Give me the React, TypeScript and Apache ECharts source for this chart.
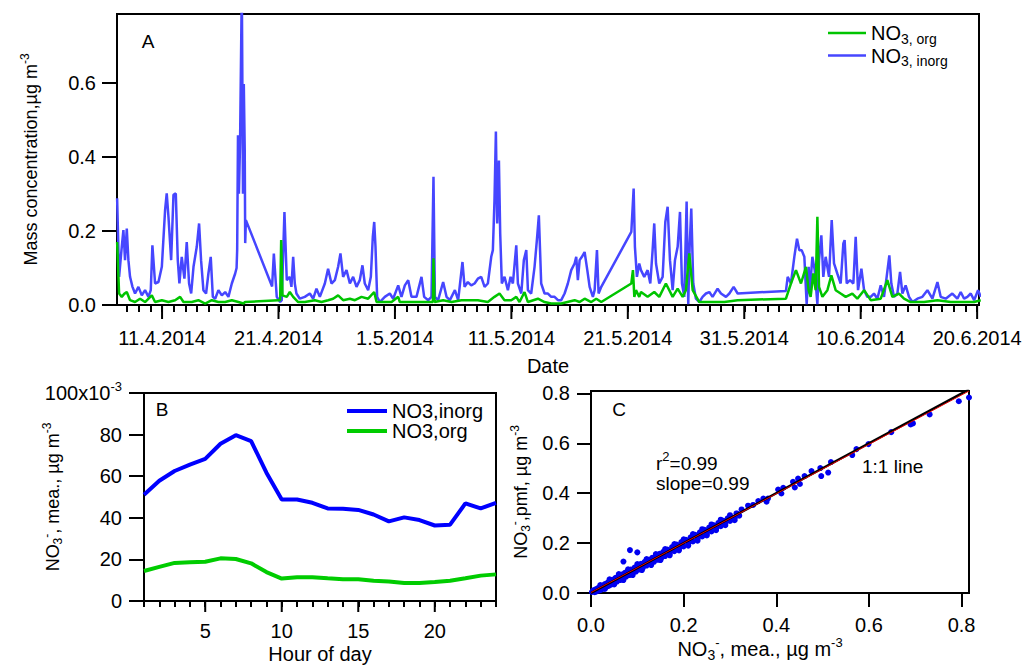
import React, { useEffect, useRef } from 'react';
import * as echarts from 'echarts';

const FONT = '"Liberation Sans", Arial, Helvetica, sans-serif';

// ---------- Panel A: time series (day offset from 1.4.2014, µg m-3) ----------
const inorgA: [number, number][] = [
  [6.14,0.288],[6.31,0.076],[6.54,0.157],[6.68,0.202],[6.82,0.121],[6.97,0.206],[7.11,0.121],[7.25,0.076],[7.46,0.049],[7.68,0.031],[7.97,0.049],[8.26,0.026],[8.54,0.040],[8.83,0.022],[9.03,0.040],[9.17,0.161],[9.40,0.058],[9.69,0.062],[9.98,0.103],[10.26,0.256],[10.40,0.301],[10.55,0.238],[10.78,0.121],[10.98,0.297],[11.18,0.301],[11.35,0.121],[11.49,0.058],[11.69,0.130],[11.92,0.071],[12.12,0.170],[12.32,0.058],[12.50,0.031],[12.70,0.103],[12.98,0.157],[13.18,0.220],[13.35,0.121],[13.55,0.040],[13.78,0.031],[13.98,0.085],[14.18,0.130],[14.36,0.022],[14.56,0.017],[14.84,0.040],[15.13,0.026],[15.42,0.035],[15.70,0.022],[15.99,0.058],[16.28,0.085],[16.40,0.100],[16.45,0.148],[16.52,0.458],[16.60,0.300],[16.70,0.440],[16.85,0.860],[16.95,0.300],[17.02,0.596],[17.10,0.418],[17.14,0.167],[17.20,0.229],
  [19.45,0.050],[19.60,0.139],[19.85,0.022],[20.14,0.008],[20.28,0.013],[20.51,0.251],[20.71,0.067],[20.97,0.076],[21.11,0.049],[21.26,0.130],[21.40,0.058],[21.54,0.031],[21.83,0.017],[22.26,0.022],[22.69,0.031],[22.98,0.017],[23.26,0.044],[23.55,0.022],[23.98,0.058],[24.26,0.098],[24.55,0.058],[24.84,0.067],[25.12,0.103],[25.32,0.139],[25.55,0.076],[25.84,0.094],[26.13,0.058],[26.41,0.076],[26.70,0.049],[26.98,0.067],[27.21,0.107],[27.41,0.058],[27.70,0.040],[27.93,0.076],[28.10,0.184],[28.22,0.224],[28.33,0.157],[28.47,0.022],[28.70,0.008],[29.13,0.022],[29.56,0.031],[29.85,0.017],[30.28,0.053],[30.56,0.022],[30.85,0.053],[31.14,0.067],[31.42,0.022],[31.85,0.022],[32.28,0.076],[32.51,0.022],[32.86,0.013],[33.14,0.022],[33.31,0.346],[33.43,0.022],[33.71,0.013],[34.14,0.062],[34.43,0.022],[34.72,0.013],[35.15,0.040],[35.43,0.013],[35.80,0.116],[35.98,0.049],[36.26,0.062],[36.55,0.053],[36.84,0.058],[37.12,0.071],[37.41,0.076],[37.70,0.049],[37.98,0.058],[38.27,0.130],[38.41,0.148],[38.55,0.283],[38.67,0.468],[38.78,0.220],[38.93,0.390],[39.04,0.193],[39.18,0.058],[39.41,0.076],[39.70,0.040],[39.93,0.076],[40.13,0.058],[40.42,0.161],[40.56,0.058],[40.85,0.031],[41.07,0.121],[41.28,0.148],[41.42,0.040],[41.70,0.031],[41.99,0.103],[42.19,0.175],[42.36,0.242],[42.56,0.058],[42.85,0.031],[43.14,0.031],[43.42,0.022],[43.71,0.022],[44.00,0.013],[44.28,0.013],[44.57,0.031],[44.85,0.058],[45.14,0.094],[45.43,0.112],[45.57,0.130],[45.71,0.067],[45.86,0.121],[46.06,0.130],[46.29,0.143],[46.52,0.094],[46.72,0.049],[47.00,0.022],[47.15,0.040],[47.35,0.148],[47.49,0.031],[47.72,0.049],
  [50.30,0.197],[50.50,0.314],[50.61,0.157],[50.78,0.076],[50.98,0.112],[51.13,0.094],[51.41,0.076],[51.70,0.094],[51.93,0.058],[52.13,0.148],[52.27,0.220],[52.42,0.112],[52.70,0.058],[52.99,0.076],[53.22,0.224],[53.42,0.265],[53.62,0.121],[53.85,0.040],[54.05,0.121],[54.28,0.157],[54.48,0.251],[54.65,0.058],[54.85,0.022],[55.05,0.279],[55.19,0.002],[55.31,0.157],[55.45,0.260],[55.62,0.058],[55.85,0.017],[56.14,0.008],[56.42,0.022],[56.71,0.031],[57.00,0.035],[57.28,0.022],[57.71,0.044],[58.00,0.031],[58.43,0.022],[58.72,0.031],[59.09,0.049],[59.43,0.031],
  [63.58,0.038],[63.73,0.076],[64.01,0.058],[64.30,0.130],[64.53,0.179],[64.73,0.148],[64.93,0.148],[65.16,0.130],[65.36,0.002],[65.53,0.103],[65.62,0.031],[65.85,0.130],[66.05,0.094],[66.28,0.002],[66.42,0.121],[66.62,0.188],[66.79,0.076],[66.99,0.130],[67.28,0.076],[67.51,0.229],[67.71,0.112],[67.99,0.085],[68.28,0.058],[68.51,0.166],[68.62,0.175],[68.80,0.058],[69.08,0.067],[69.37,0.058],[69.57,0.184],[69.77,0.040],[70.06,0.098],[70.29,0.040],[70.57,0.022],[70.86,0.022],[71.14,0.031],[71.43,0.017],[71.72,0.053],[72.00,0.022],[72.23,0.076],[72.46,0.134],[72.63,0.058],[72.86,0.022],[73.15,0.031],[73.38,0.089],[73.58,0.031],[73.86,0.053],[74.15,0.022],[74.44,0.008],[74.87,0.017],[75.30,0.022],[75.73,0.040],[76.16,0.017],[76.59,0.062],[76.87,0.022],[77.30,0.017],[77.87,0.031],[78.30,0.017],[78.59,0.035],[78.88,0.017],[79.16,0.022],[79.45,0.031],[79.74,0.013],[80.08,0.040],[80.31,0.022]
];

const orgA: [number, number][] = [
  [6.14,0.170],[6.31,0.031],[6.54,0.022],[6.75,0.030],[6.97,0.035],[7.25,0.013],[7.68,0.008],[8.11,0.017],[8.54,0.008],[9.12,0.026],[9.40,0.008],[9.98,0.013],[10.55,0.008],[11.12,0.013],[11.55,0.022],[11.84,0.008],[12.55,0.008],[13.12,0.013],[13.70,0.004],[14.27,0.013],[14.84,0.008],[15.42,0.008],[15.99,0.013],[16.56,0.008],[16.99,0.004],[17.13,0.008],
  [20.00,0.013],[20.14,0.013],[20.23,0.175],[20.34,0.026],[20.71,0.022],[20.97,0.035],[21.26,0.022],[21.69,0.008],[22.26,0.008],[23.12,0.013],[23.69,0.008],[24.26,0.013],[24.69,0.017],[25.12,0.026],[25.55,0.013],[26.13,0.017],[26.56,0.013],[27.13,0.022],[27.70,0.017],[28.22,0.035],[28.42,0.008],[29.13,0.008],[29.71,0.008],[30.28,0.022],[30.42,0.008],[31.14,0.008],[32.00,0.008],[32.86,0.008],[33.26,0.008],[33.31,0.126],[33.40,0.008],[34.14,0.013],[34.86,0.008],[35.72,0.013],[37.12,0.013],[37.98,0.008],[38.55,0.022],[38.98,0.031],[39.41,0.013],[39.99,0.013],[40.42,0.022],[40.70,0.008],[41.13,0.035],[41.42,0.008],[42.28,0.017],[42.85,0.008],[43.42,0.004],[44.28,0.004],[45.43,0.013],[45.86,0.008],[46.29,0.017],[46.86,0.008],[47.29,0.017],[47.72,0.008],
  [50.30,0.058],[50.44,0.094],[50.56,0.022],[50.70,0.040],[50.98,0.022],[51.13,0.035],[51.70,0.022],[52.27,0.035],[52.70,0.022],[53.27,0.058],[53.85,0.022],[54.28,0.044],[54.71,0.022],[54.99,0.040],[55.28,0.139],[55.57,0.040],[56.14,0.008],[57.14,0.008],[58.29,0.008],[59.43,0.013],
  [63.58,0.017],[64.01,0.058],[64.44,0.094],[64.87,0.058],[65.30,0.103],[65.53,0.040],[65.70,0.022],[65.93,0.085],[66.13,0.040],[66.28,0.238],[66.42,0.049],[66.71,0.022],[67.14,0.040],[67.48,0.080],[67.85,0.040],[68.28,0.031],[68.71,0.022],[69.28,0.031],[69.71,0.017],[70.29,0.040],[70.86,0.013],[71.72,0.017],[72.29,0.067],[72.72,0.022],[73.29,0.031],[73.72,0.017],[74.29,0.008],[75.44,0.008],[76.59,0.013],[77.73,0.008],[78.88,0.008],[79.74,0.008],[80.31,0.013]
];

const dateTickDays = [10, 20, 30, 40, 50, 60, 70, 80];
const dateTickLabels = ['11.4.2014', '21.4.2014', '1.5.2014', '11.5.2014', '21.5.2014', '31.5.2014', '10.6.2014', '20.6.2014'];
const concTicksA = [0, 0.2, 0.4, 0.6];

// ---------- Panel B: diurnal cycle (x10^-3 µg m-3) ----------
const hours = [1,2,3,4,5,6,7,8,9,10,11,12,13,14,15,16,17,18,19,20,21,22,23,24];
const inorgB = [51.1,57.8,62.5,65.6,68.3,75.6,79.7,76.9,61.7,48.8,48.8,47.2,44.5,44.4,43.8,41.6,38.3,40.2,38.9,36.3,36.7,46.9,44.5,47.2];
const orgB = [14.4,16.4,18.3,18.6,18.9,20.5,20.2,18.1,13.9,10.8,11.4,11.4,10.9,10.5,10.5,9.7,9.4,8.6,8.6,9.1,9.7,10.9,12.2,12.8];
const hourLabelTicks = [5, 10, 15, 20];
const concTicksB = [0, 20, 40, 60, 80, 100];

// ---------- Panel C: measured vs PMF ----------
const scatterC: [number, number][] = [
  [0.002,0.004],[0.005,0.011],[0.008,0.003],[0.010,0.015],[0.012,0.006],[0.015,0.020],[0.018,0.010],[0.020,0.026],[0.022,0.013],[0.025,0.030],[0.028,0.018],[0.030,0.036],[0.033,0.024],[0.036,0.042],[0.038,0.028],[0.040,0.048],[0.043,0.033],[0.046,0.053],[0.050,0.040],[0.053,0.061],[0.056,0.046],[0.060,0.068],[0.063,0.052],[0.066,0.074],[0.070,0.058],[0.073,0.081],[0.076,0.066],[0.080,0.088],[0.083,0.072],[0.086,0.094],[0.090,0.079],[0.094,0.102],[0.097,0.086],[0.100,0.108],[0.104,0.094],[0.108,0.117],[0.112,0.101],[0.116,0.125],[0.120,0.110],[0.124,0.133],[0.128,0.117],[0.132,0.141],[0.136,0.125],[0.140,0.149],[0.144,0.133],[0.148,0.157],[0.152,0.141],[0.156,0.165],[0.160,0.148],[0.165,0.174],[0.170,0.158],[0.175,0.184],[0.180,0.168],[0.185,0.194],[0.190,0.178],[0.195,0.204],[0.200,0.187],[0.205,0.213],[0.210,0.197],[0.215,0.223],[0.220,0.207],[0.225,0.233],[0.230,0.217],[0.235,0.243],[0.240,0.227],[0.245,0.253],[0.250,0.237],[0.255,0.262],[0.260,0.247],[0.265,0.272],[0.270,0.258],[0.275,0.281],[0.280,0.268],[0.285,0.290],[0.290,0.279],[0.295,0.299],[0.300,0.289],[0.305,0.302],[0.310,0.300],[0.315,0.318],[0.320,0.310],
  [0.015,0.014],[0.035,0.034],[0.055,0.054],[0.075,0.074],[0.095,0.094],[0.115,0.113],[0.135,0.134],[0.155,0.153],[0.175,0.173],[0.195,0.193],[0.215,0.213],[0.235,0.233],[0.255,0.253],[0.275,0.273],[0.295,0.292],
  [0.020,0.032],[0.040,0.055],[0.060,0.076],[0.080,0.095],[0.100,0.116],[0.120,0.136],[0.140,0.156],[0.160,0.176],[0.180,0.196],[0.200,0.215],[0.220,0.236],[0.240,0.256],[0.260,0.275],[0.280,0.294],[0.300,0.312],
  [0.030,0.016],[0.050,0.034],[0.070,0.052],[0.090,0.072],[0.110,0.092],[0.130,0.112],[0.150,0.132],[0.170,0.151],[0.190,0.171],[0.210,0.190],[0.230,0.210],[0.250,0.231],[0.270,0.252],[0.290,0.272],[0.310,0.292],
  [0.300,0.306],[0.314,0.319],[0.325,0.335],[0.339,0.350],[0.350,0.353],[0.361,0.369],[0.372,0.379],[0.379,0.366],[0.382,0.379],[0.404,0.415],[0.411,0.399],[0.415,0.422],[0.436,0.446],[0.440,0.423],[0.447,0.459],[0.451,0.437],[0.461,0.469],[0.476,0.489],[0.495,0.501],[0.497,0.469],[0.512,0.483],[0.518,0.525],[0.564,0.553],[0.573,0.577],[0.599,0.597],[0.648,0.645],[0.690,0.676],[0.695,0.680],[0.731,0.716],[0.794,0.769],[0.816,0.784],
  [0.070,0.126],[0.084,0.172],[0.100,0.163]
];
const oneToOneLine: [number, number][] = [[0, 0], [0.816, 0.816]];
const fitLine: [number, number][] = [[0, 0.002], [0.816, 0.81]];
const concTicksC = [0, 0.2, 0.4, 0.6, 0.8];

const dayTicks: number[] = [];
for (let d = 7; d <= 80; d++) dayTicks.push(d);

const sup = { fontSize: 12, fontFamily: FONT, color: '#000', padding: [0, 0, 12, 0] };
const sub = { fontSize: 12, fontFamily: FONT, color: '#000', padding: [10, 0, 0, 0] };
const subL = { fontSize: 14, fontFamily: FONT, color: '#000', padding: [11, 0, 0, 0] };
const supL = { fontSize: 13, fontFamily: FONT, color: '#000', padding: [0, 0, 13, 0] };

const axisLine = { show: true, lineStyle: { color: '#000', width: 2 } };
const labelStyle = { color: '#000', fontSize: 20, fontFamily: FONT };
const titleStyle = { color: '#000', fontSize: 18, fontFamily: FONT };
const hTitleStyle = { color: '#000', fontSize: 20, fontFamily: FONT };

// long (major) tick drawn below the x axis at a data position, through the axis scale
const majorTick = (len: number) => (params: any, api: any) => {
  const p = api.coord([api.value(0), 0]);
  return {
    type: 'line',
    shape: { x1: p[0], y1: p[1], x2: p[0], y2: p[1] + len },
    style: { stroke: '#000', lineWidth: 2 }
  };
};

export default function App() {
  const ref = useRef<HTMLDivElement>(null);
  useEffect(() => {
    document.body.style.margin = '0';
    const chart = echarts.init(ref.current!, null, { renderer: 'svg' });
    const option: any = {
      animation: false,
      backgroundColor: '#fff',
      grid: [
        { left: 117, top: 14, width: 862, height: 291, show: true, borderColor: '#000', borderWidth: 2 },
        { left: 144, top: 393, width: 352, height: 214, show: true, borderColor: '#000', borderWidth: 2 },
        { left: 591, top: 391, width: 378, height: 202, show: true, borderColor: '#000', borderWidth: 2 }
      ],
      legend: [
        {
          data: ['A_org', 'A_inorg'], orient: 'vertical', left: 823, top: 18, itemWidth: 38, itemHeight: 2.5, itemGap: 0,
          icon: 'rect',
          formatter: (n: string) => (n === 'A_org' ? 'NO{s|3, org}' : 'NO{s|3, inorg}'),
          textStyle: { ...labelStyle, rich: { s: subL } }
        },
        {
          data: ['NO3,inorg', 'NO3,org'], orient: 'vertical', left: 342, top: 396, itemWidth: 40, itemHeight: 4, itemGap: 0,
          icon: 'rect',
          textStyle: { ...labelStyle, lineHeight: 20 }
        }
      ],
      xAxis: [
        {
          gridIndex: 0, type: 'value', position: 'bottom', min: 6.13, max: 80.16, axisLine,
          axisTick: { show: true, customValues: dayTicks, length: 7, lineStyle: { color: '#000', width: 2 } },
          axisLabel: { ...labelStyle, customValues: dateTickDays, margin: 23, formatter: (v: number) => dateTickLabels[dateTickDays.indexOf(Math.round(v))] ?? '' },
          splitLine: { show: false },
          name: 'Date', nameLocation: 'middle', nameGap: 51, nameMoveOverlap: false, nameTextStyle: { ...hTitleStyle }
        },
        {
          gridIndex: 1, type: 'value', position: 'bottom', min: 1, max: 24, axisLine,
          axisTick: { show: true, customValues: hours, length: 6, lineStyle: { color: '#000', width: 2 } },
          axisLabel: { ...labelStyle, customValues: hourLabelTicks, margin: 20 },
          splitLine: { show: false },
          name: 'Hour of day', nameLocation: 'middle', nameGap: 43, nameMoveOverlap: false, nameTextStyle: { ...hTitleStyle }
        },
        {
          gridIndex: 2, type: 'value', position: 'bottom', min: 0, max: 0.816, axisLine,
          axisTick: { show: true, customValues: concTicksC, length: 14, lineStyle: { color: '#000', width: 2 } },
          axisLabel: { ...labelStyle, customValues: concTicksC, margin: 22, formatter: (v: number) => v.toFixed(1) },
          splitLine: { show: false },
          name: 'NO{sub|3}{sup|-}, mea., µg m{sup|-3}', nameLocation: 'middle', nameGap: 43, nameMoveOverlap: false,
          nameTextStyle: { ...hTitleStyle, padding: [0, 40, 0, 0], rich: { sub: subL, sup: supL } }
        }
      ],
      yAxis: [
        {
          gridIndex: 0, type: 'value', min: 0, max: 0.785, axisLine,
          axisTick: { show: true, customValues: concTicksA, length: 15, lineStyle: { color: '#000', width: 2 } },
          axisLabel: { ...labelStyle, customValues: concTicksA, margin: 21, formatter: (v: number) => v.toFixed(1) },
          splitLine: { show: false },
          name: 'Mass concentration,µg m{sup|-3}', nameLocation: 'middle', nameGap: 74, nameMoveOverlap: false,
          nameTextStyle: { ...titleStyle, rich: { sup } }
        },
        {
          gridIndex: 1, type: 'value', min: 0, max: 100, axisLine,
          axisTick: { show: true, customValues: concTicksB, length: 15, lineStyle: { color: '#000', width: 2 } },
          axisLabel: { ...labelStyle, customValues: concTicksB, margin: 22, formatter: (v: number) => (v === 100 ? '100x10{sup|-3}' : String(v)), rich: { sup: supL } },
          splitLine: { show: false },
          name: 'NO{sub|3}{sup|-}, mea., µg m{sup|-3}', nameLocation: 'middle', nameGap: 79, nameMoveOverlap: false,
          nameTextStyle: { ...titleStyle, rich: { sub, sup } }
        },
        {
          gridIndex: 2, type: 'value', min: 0, max: 0.81, axisLine,
          axisTick: { show: true, customValues: concTicksC, length: 14, lineStyle: { color: '#000', width: 2 } },
          axisLabel: { ...labelStyle, customValues: concTicksC, margin: 21, formatter: (v: number) => v.toFixed(1) },
          splitLine: { show: false },
          name: 'NO{sub|3}{sup|-},pmf, µg m{sup|-3}', nameLocation: 'middle', nameGap: 58, nameMoveOverlap: false,
          nameTextStyle: { ...titleStyle, rich: { sub, sup } }
        }
      ],
      series: [
        { name: 'A_inorg', type: 'line', xAxisIndex: 0, yAxisIndex: 0, data: inorgA, showSymbol: false, symbol: 'none', color: '#4646FF', lineStyle: { width: 2.5, color: '#4646FF' } },
        { name: 'A_org', type: 'line', xAxisIndex: 0, yAxisIndex: 0, data: orgA, showSymbol: false, symbol: 'none', color: '#00C400', lineStyle: { width: 2.5, color: '#00C400' } },
        { name: 'A_majorTicks', type: 'custom', xAxisIndex: 0, yAxisIndex: 0, data: dateTickDays.map((d) => [d, 0]), renderItem: majorTick(14), clip: false, silent: true, z: 10 },
        { name: 'NO3,inorg', type: 'line', xAxisIndex: 1, yAxisIndex: 1, data: hours.map((h, i) => [h, inorgB[i]]), symbol: 'none', color: '#0000FF', lineStyle: { width: 4, color: '#0000FF' } },
        { name: 'NO3,org', type: 'line', xAxisIndex: 1, yAxisIndex: 1, data: hours.map((h, i) => [h, orgB[i]]), symbol: 'none', color: '#00CC00', lineStyle: { width: 4, color: '#00CC00' } },
        { name: 'B_majorTicks', type: 'custom', xAxisIndex: 1, yAxisIndex: 1, data: hourLabelTicks.map((h) => [h, 0]), renderItem: majorTick(11), clip: false, silent: true, z: 10 },
        { name: 'pts', type: 'scatter', xAxisIndex: 2, yAxisIndex: 2, data: scatterC, symbolSize: 6, itemStyle: { color: '#0000F0', opacity: 1 } },
        { name: 'one', type: 'line', xAxisIndex: 2, yAxisIndex: 2, data: oneToOneLine, symbol: 'none', lineStyle: { width: 2.5, color: '#000' } },
        { name: 'fit', type: 'line', xAxisIndex: 2, yAxisIndex: 2, data: fitLine, symbol: 'none', lineStyle: { width: 1, color: '#E00000' } }
      ],
      graphic: [
        { type: 'text', x: 148, y: 41, style: { text: 'A', fontSize: 19, fontFamily: FONT, fill: '#000', align: 'center', verticalAlign: 'middle' } },
        { type: 'text', x: 162, y: 409, style: { text: 'B', fontSize: 19, fontFamily: FONT, fill: '#000', align: 'center', verticalAlign: 'middle' } },
        { type: 'text', x: 619, y: 409, style: { text: 'C', fontSize: 19, fontFamily: FONT, fill: '#000', align: 'center', verticalAlign: 'middle' } },
        { type: 'text', x: 656, y: 463, style: { text: 'r{sup|2}=0.99', rich: { sup: supL }, fontSize: 19, fontFamily: FONT, fill: '#000', align: 'left', verticalAlign: 'middle' } },
        { type: 'text', x: 656, y: 483, style: { text: 'slope=0.99', fontSize: 19, fontFamily: FONT, fill: '#000', align: 'left', verticalAlign: 'middle' } },
        { type: 'text', x: 862, y: 466, style: { text: '1:1 line', fontSize: 19, fontFamily: FONT, fill: '#000', align: 'left', verticalAlign: 'middle' } }
      ]
    };
    chart.setOption(option);
    return () => chart.dispose();
  }, []);
  return <div ref={ref} style={{ position: 'absolute', left: 0, top: 0, width: 1026, height: 665 }} />;
}
